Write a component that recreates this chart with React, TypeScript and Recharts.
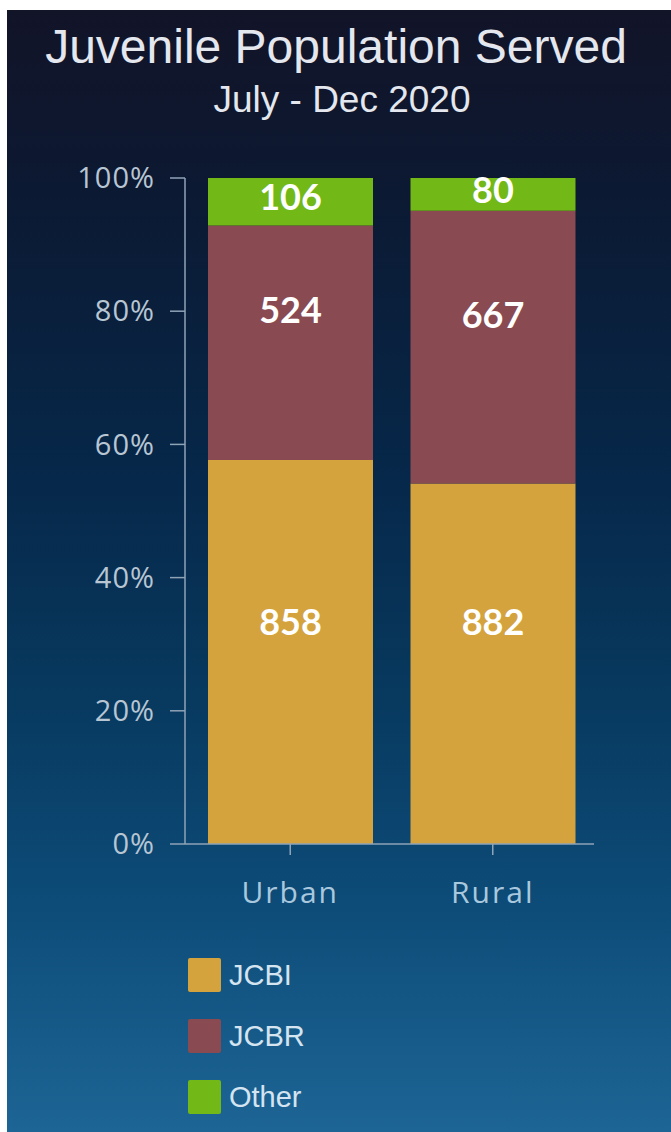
import React from "react";
import { Bar, BarChart, LabelList, XAxis, YAxis } from "recharts";

const regions = ["Urban", "Rural"];
const jcbi = [858, 882];
const jcbr = [524, 667];
const other = [106, 80];
const seriesNames = ["JCBI", "JCBR", "Other"];
const yTicks = [0, 0.2, 0.4, 0.6, 0.8, 1];

const seriesColors: Record<string, string> = {
	JCBI: "#d4a33d",
	JCBR: "#8a4a51",
	Other: "#72b816",
};

// where each label sits inside its segment: "bottom" = fixed distance up from
// the segment's base, otherwise offset from the segment's middle
const labelAnchor: Record<string, { from: "bottom" | "middle"; shift: number }> = {
	JCBI: { from: "bottom", shift: -222 },
	JCBR: { from: "middle", shift: -32 },
	Other: { from: "middle", shift: -4 },
};

const data = regions.map((region, i) => ({
	region,
	JCBI: jcbi[i],
	JCBR: jcbr[i],
	Other: other[i],
}));

const axisColor = "#8fa3b7";

const makeLabel = (name: string) => (props: any) => {
	const { x, y, width, height, value } = props;
	const a = labelAnchor[name];
	const base =
		a.from === "bottom"
			? Number(y) + Number(height)
			: Number(y) + Number(height) / 2;
	return (
		<text
			x={Number(x) + Number(width) / 2}
			y={base + a.shift}
			dy="0.35em"
			textAnchor="middle"
			fill="#ffffff"
			fontFamily="Lato, 'Open Sans', sans-serif"
			fontWeight={700}
			fontSize={36}
		>
			{value}
		</text>
	);
};

export default function App() {
	return (
		<div
			style={{
				position: "absolute",
				left: 7,
				top: 10,
				width: 664,
				height: 1122,
				overflow: "hidden",
				background:
					"linear-gradient(180deg, #121428 0%, #0c1932 16%, #06284a 42%, #083a60 62%, #0d4c79 80%, #1d6595 100%)",
			}}
		>
			<div
				style={{
					position: "absolute",
					top: 13,
					left: 0,
					width: 658,
					textAlign: "center",
					fontFamily: "'Liberation Sans', Arial, sans-serif",
					fontSize: 48,
					lineHeight: "48px",
					color: "#e4e7ee",
					whiteSpace: "nowrap",
				}}
			>
				Juvenile Population Served
			</div>
			<div
				style={{
					position: "absolute",
					top: 71,
					left: 0,
					width: 670,
					textAlign: "center",
					fontFamily: "'Liberation Sans', Arial, sans-serif",
					fontSize: 37,
					lineHeight: "37px",
					color: "#e4e7ee",
					whiteSpace: "nowrap",
				}}
			>
				July - Dec 2020
			</div>

			<div style={{ position: "absolute", left: 0, top: 0 }}>
				<BarChart
					width={664}
					height={1122}
					data={data}
					stackOffset="expand"
					margin={{ top: 168, right: 77, bottom: 228, left: 0 }}
				>
					<XAxis
						dataKey="region"
						height={60}
						padding={{ left: 4, right: 0 }}
						axisLine={{ stroke: axisColor, strokeWidth: 1.5 }}
						tickLine={{ stroke: axisColor, strokeWidth: 1.5 }}
						tickSize={11}
						tickMargin={27}
						tick={{
							fill: "#a9c8de",
							fontSize: 30,
							fontFamily: "'Open Sans', sans-serif",
							letterSpacing: 2,
						}}
					/>
					<YAxis
						width={178}
						domain={[0, 1]}
						ticks={yTicks}
						tickFormatter={(v: number) => `${Math.round(v * 100)}%`}
						axisLine={{ stroke: axisColor, strokeWidth: 1.5 }}
						tickLine={{ stroke: axisColor, strokeWidth: 1.5 }}
						tickSize={15}
						tickMargin={15}
						tick={{
							fill: "#b8c5d3",
							fontSize: 29,
							fontFamily: "'Open Sans', sans-serif",
							letterSpacing: 1,
						}}
					/>
					{seriesNames.map((name) => (
						<Bar
							key={name}
							dataKey={name}
							stackId="a"
							fill={seriesColors[name]}
							barSize={165}
							isAnimationActive={false}
						>
							<LabelList dataKey={name} content={makeLabel(name)} />
						</Bar>
					))}
				</BarChart>
			</div>

			{seriesNames.map((name, i) => (
				<div
					key={name}
					style={{
						position: "absolute",
						left: 181,
						top: 948 + i * 61,
						height: 34,
						display: "flex",
						alignItems: "center",
						fontFamily: "'Liberation Sans', Arial, sans-serif",
						fontSize: 29,
						color: "#d4e4f0",
					}}
				>
					<span
						style={{
							width: 33,
							height: 34,
							background: seriesColors[name],
							borderRadius: 2,
							marginRight: 8,
							display: "inline-block",
						}}
					/>
					{name}
				</div>
			))}
		</div>
	);
}
